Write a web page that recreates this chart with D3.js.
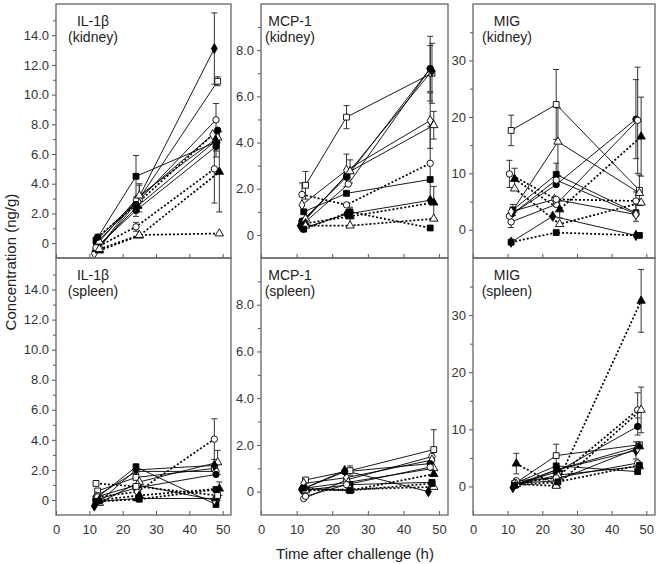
<!DOCTYPE html>
<html>
<head>
<meta charset="utf-8">
<script src="https://cdn.jsdelivr.net/npm/d3@7"></script>
<style>
  body { margin: 0; background: #fff; }
  svg { font-family: "Liberation Sans", Arial, sans-serif; }
</style>
</head>
<body>
<div id="chart"></div>
<script>
// series keys: o/f = open/filled, c/s/t/d = circle/square/triangle/diamond, ":" = dotted line
var analytes = ["IL-1\u03b2", "MCP-1", "MIG"];
var organs = ["(kidney)", "(spleen)"];
var xTicks = [0, 10, 20, 30, 40, 50];
var yDomains = [[-1, 16.1], [-1, 10], [-5, 40]];
var yMajor = [[0, 2, 4, 6, 8, 10, 12, 14], [0, 2, 4, 6, 8], [0, 10, 20, 30]];
var yMinor = [[1, 3, 5, 7, 9, 11, 13, 15], [1, 3, 5, 7, 9], [5, 15, 25, 35]];

var il1bKidney = [
    { k: "fd", t: [12, 24, 47.5], v: [0.0, 2.7, 13.1], e: [0.3, 0, 2.4] },
    { k: "os", t: [12.5, 25, 48.5], v: [0.3, 3.0, 10.9], e: [0.3, 0.9, 0.3] },
    { k: "oc", t: [13, 24.5, 48], v: [-0.3, 2.8, 8.3], e: [0, 0, 1.1] },
    { k: "fs", t: [12, 24, 48], v: [0.2, 4.5, 6.8], e: [0, 1.4, 0.6] },
    { k: "od", t: [11.5, 24, 47], v: [-0.7, 2.9, 7.3], e: [0, 0, 0] },
    { k: "fc", t: [12.5, 24, 48], v: [-0.2, 2.2, 6.5], e: [0, 0.4, 0.7] },
    { k: "ot", t: [13, 25, 48.5], v: [0.1, 3.2, 7.1], e: [0, 0.8, 0] },
    { k: "ft", t: [12, 24.5, 48], v: [-0.4, 2.5, 6.9], e: [0, 0, 0] },
    { k: "fc:", t: [12.5, 24, 48.5], v: [0.4, 2.6, 7.6], e: [0, 0, 0] },
    { k: "oc:", t: [12, 24, 47.5], v: [-0.3, 1.1, 5.0], e: [0, 0.3, 2.3] },
    { k: "ft:", t: [13, 25, 49], v: [-0.5, 0.5, 4.8], e: [0, 0, 2.7] },
    { k: "ot:", t: [13, 25, 49], v: [-0.4, 0.55, 0.65], e: [0, 0, 0] }
];

var mcp1Kidney = [
    { k: "os", t: [12.5, 24, 48], v: [2.15, 5.1, 7.0], e: [0.6, 0.5, 1.3] },
    { k: "oc", t: [12, 24.5, 47.5], v: [0.5, 2.2, 7.2], e: [0, 0, 1.0] },
    { k: "fc", t: [11.5, 24, 47.5], v: [0.6, 2.5, 7.2], e: [0, 0, 1.4] },
    { k: "fd", t: [11, 24, 48], v: [0.4, 2.6, 7.1], e: [0, 0, 0] },
    { k: "od", t: [11.5, 24, 47.5], v: [1.3, 2.8, 4.95], e: [0, 0.7, 1.2] },
    { k: "ot", t: [12.5, 25, 48.5], v: [0.7, 2.75, 4.75], e: [0, 0.5, 0.6] },
    { k: "fs", t: [12, 24, 47.5], v: [1.0, 1.8, 2.4], e: [0, 0, 0] },
    { k: "fd", t: [12, 24, 47.5], v: [0.3, 0.9, 1.5], e: [0, 0, 0] },
    { k: "oc:", t: [11.5, 24, 47.5], v: [1.75, 1.3, 3.1], e: [0.5, 0, 1.6] },
    { k: "ft:", t: [12.5, 25, 48.5], v: [0.5, 0.8, 1.4], e: [0, 0.4, 0.7] },
    { k: "ot:", t: [12.5, 25, 48.5], v: [0.4, 0.4, 0.7], e: [0, 0, 0] },
    { k: "fs:", t: [12, 25, 47.5], v: [0.25, 1.0, 0.3], e: [0, 0, 0] }
];

var migKidney = [
    { k: "os", t: [11, 24, 48], v: [17.6, 22.2, 7.0], e: [2.7, 6.2, 2.7] },
    { k: "ot", t: [11, 24.5, 48], v: [3.0, 15.6, 6.5], e: [0, 6.0, 0] },
    { k: "fc", t: [11, 24, 47], v: [2.7, 8.0, 19.6], e: [0, 0, 7.0] },
    { k: "oc", t: [11, 24, 47.5], v: [1.4, 4.5, 19.4], e: [1.0, 0, 9.4] },
    { k: "fs", t: [11.5, 24, 47], v: [3.5, 9.8, 3.0], e: [1.0, 2.0, 1.5] },
    { k: "oc", t: [10.5, 24, 47], v: [2.4, 8.8, 2.8], e: [0, 0, 0] },
    { k: "fd", t: [11, 23, 47], v: [-2.2, 2.4, -1.0], e: [0, 0, 0] },
    { k: "od", t: [11, 23.5, 47], v: [3.2, 5.4, 2.7], e: [0, 0, 0] },
    { k: "ft:", t: [12, 25, 48.5], v: [9.0, 3.6, 16.5], e: [1.9, 1.5, 7.0] },
    { k: "ot:", t: [12, 25, 48.5], v: [7.3, 1.0, 4.8], e: [0, 0, 0] },
    { k: "oc:", t: [10.5, 24, 47], v: [9.9, 5.4, 5.1], e: [2.4, 0, 1.6] },
    { k: "fs:", t: [11, 24, 48], v: [-2.2, -0.5, -1.0], e: [0, 0, 0] }
];

var il1bSpleen = [
    { k: "os", t: [12.5, 24, 47.5], v: [0.6, 1.5, 2.1], e: [0, 0, 0] },
    { k: "oc", t: [12.5, 24, 48], v: [0.3, 1.9, 1.9], e: [0, 0, 0] },
    { k: "fs", t: [12, 24, 48], v: [0.1, 2.2, -0.3], e: [0, 0.2, 0] },
    { k: "ot", t: [13, 25, 48.5], v: [-0.2, 1.2, 2.5], e: [0, 0, 0.8] },
    { k: "fc", t: [12, 24, 48], v: [0.0, 0.8, 1.7], e: [0, 0, 0] },
    { k: "fd", t: [11.5, 24, 47.5], v: [-0.4, 2.0, 2.3], e: [0, 0, 0] },
    { k: "od", t: [12, 24.5, 47.5], v: [0.2, 1.0, 0.0], e: [0, 0, 0] },
    { k: "ft", t: [12.5, 24.5, 48], v: [-0.1, 0.1, 0.1], e: [0, 0, 0] },
    { k: "oc:", t: [12.5, 24.5, 47.5], v: [0.2, 0.55, 4.05], e: [0, 0, 1.35] },
    { k: "os:", t: [12, 24, 48.5], v: [1.1, 0.9, 0.3], e: [0, 0, 0] },
    { k: "ft:", t: [13, 25, 49], v: [0.0, 0.3, 0.75], e: [0, 0, 0.45] },
    { k: "fs:", t: [12, 25, 48], v: [-0.1, 0.05, 0.7], e: [0, 0, 0] }
];

var mcp1Spleen = [
    { k: "os", t: [12.5, 25, 48.5], v: [0.5, 0.9, 1.8], e: [0, 0.2, 0.85] },
    { k: "oc", t: [12, 24, 48], v: [-0.3, 0.5, 1.5], e: [0, 0, 0] },
    { k: "od", t: [12, 24, 48], v: [0.35, 0.6, 1.35], e: [0, 0, 0] },
    { k: "fc", t: [11.5, 23.5, 47.5], v: [0.1, 0.85, 1.2], e: [0, 0, 0] },
    { k: "ot", t: [12.5, 24.5, 48.5], v: [0.15, 0.4, 1.0], e: [0, 0, 0] },
    { k: "fd", t: [11.5, 23.5, 47], v: [0.1, 0.9, 0.0], e: [0, 0, 0] },
    { k: "fs", t: [12, 25, 48], v: [0.05, 0.3, 0.4], e: [0, 0, 0] },
    { k: "oc", t: [12.5, 24, 47.5], v: [-0.2, 0.3, 1.05], e: [0, 0, 0] },
    { k: "ft:", t: [12.5, 25, 48.5], v: [0.1, 0.05, 0.75], e: [0, 0, 0] },
    { k: "ot:", t: [12.5, 25, 48.5], v: [0.05, 0.1, 0.2], e: [0, 0, 0] },
    { k: "fs:", t: [12, 25, 48], v: [0.15, 0.05, 0.35], e: [0, 0, 0] }
];

var migSpleen = [
    { k: "os", t: [12.5, 24, 48], v: [0.7, 5.4, 7.3], e: [0, 2.0, 0] },
    { k: "fs", t: [12, 24, 47.5], v: [0.5, 3.6, 2.6], e: [0, 0, 0] },
    { k: "fc", t: [12, 24, 47.5], v: [0.3, 2.5, 10.5], e: [0, 0, 1.5] },
    { k: "oc", t: [12.5, 24, 47.5], v: [1.0, 1.5, 4.1], e: [0, 0, 0] },
    { k: "ot", t: [12, 24.5, 48], v: [0.2, 2.0, 3.5], e: [0, 0, 0] },
    { k: "fd", t: [11.5, 24, 47], v: [-0.2, 2.9, 6.3], e: [0, 0, 1.5] },
    { k: "od", t: [12, 24, 47.5], v: [0.5, 1.0, 6.7], e: [0, 0, 0] },
    { k: "ft", t: [12, 24.5, 48], v: [0.3, 3.0, 7.0], e: [0, 0, 0] },
    { k: "ft:", t: [12.5, 24, 48.5], v: [4.0, 0.2, 32.5], e: [1.8, 0, 5.5] },
    { k: "oc:", t: [12, 24, 47.5], v: [0.6, 1.5, 13.4], e: [0, 0, 3.0] },
    { k: "ot:", t: [12.5, 24, 48.5], v: [0.4, 0.1, 13.4], e: [0, 0, 4.0] },
    { k: "fs:", t: [12, 24.5, 48], v: [0.2, 0.8, 3.7], e: [0, 0, 0] }
];

var panelData = [[il1bKidney, mcp1Kidney, migKidney], [il1bSpleen, mcp1Spleen, migSpleen]];

var W = 661, H = 564;
var cols = [{ l: 56, r: 231 }, { l: 261, r: 448 }, { l: 473, r: 655 }];
var rows = [{ t: 4, b: 258 }, { t: 258, b: 515 }];
var titleOffset = [37, 29, 34];

var shapes = { c: d3.symbolCircle, s: d3.symbolSquare, t: d3.symbolTriangle, d: d3.symbolDiamond };
var sizes = { c: 32, s: 34, t: 30, d: 30 };

var svg = d3.select("#chart").append("svg")
    .attr("width", W)
    .attr("height", H);

rows.forEach(function (row, ri) {
    cols.forEach(function (col, ci) {
        var data = panelData[ri][ci];
        var x = d3.scaleLinear().domain([0, 52.5]).range([col.l, col.r]);
        var y = d3.scaleLinear().domain(yDomains[ci]).range([row.b, row.t]);
        var fmt = ci < 2 ? function (d) { return d === 0 ? "0" : d.toFixed(1); } : d3.format("d");

        var g = svg.append("g");

        // y axis (ticks outside)
        var ya = g.append("g")
            .attr("transform", "translate(" + col.l + ",0)")
            .call(d3.axisLeft(y).tickValues(yMajor[ci]).tickSize(4).tickPadding(3).tickFormat(fmt));
        ya.select(".domain").remove();
        ya.selectAll("text").attr("font-size", 13).attr("fill", "#333").attr("font-family", "Liberation Sans, Arial");
        ya.selectAll("line").attr("stroke", "#555");
        var ym = g.append("g")
            .attr("transform", "translate(" + col.l + ",0)")
            .call(d3.axisLeft(y).tickValues(yMinor[ci]).tickSize(3).tickFormat(""));
        ym.select(".domain").remove();
        ym.selectAll("line").attr("stroke", "#555");

        // x axis (ticks inside)
        var xa = g.append("g")
            .attr("transform", "translate(0," + row.b + ")")
            .call(d3.axisBottom(x).tickValues(xTicks).tickSize(-4).tickPadding(10)
                .tickFormat(ri === 1 ? d3.format("d") : ""));
        xa.select(".domain").remove();
        xa.selectAll("text").attr("font-size", 13).attr("fill", "#333").attr("font-family", "Liberation Sans, Arial");
        xa.selectAll("line").attr("stroke", "#555");

        g.append("rect")
            .attr("x", col.l).attr("y", row.t)
            .attr("width", col.r - col.l).attr("height", row.b - row.t)
            .attr("fill", "none").attr("stroke", "#666").attr("stroke-width", 1.3);

        // panel title
        var tx = col.l + titleOffset[ci];
        g.append("text").attr("x", tx).attr("y", row.t + 22)
            .attr("text-anchor", "middle").attr("font-size", 14).attr("fill", "#222")
            .text(analytes[ci]);
        g.append("text").attr("x", tx).attr("y", row.t + 38)
            .attr("text-anchor", "middle").attr("font-size", 14).attr("fill", "#222")
            .text(organs[ri]);

        var line = d3.line()
            .x(function (p) { return x(p[0]); })
            .y(function (p) { return y(p[1]); });

        // connecting lines
        g.selectAll(".ln")
            .data(data)
            .enter()
            .append("path")
            .attr("d", function (s) { return line(s.t.map(function (t, i) { return [t, s.v[i]]; })); })
            .attr("fill", "none")
            .attr("stroke", "#000")
            .attr("stroke-width", function (s) { return s.k.indexOf(":") > 0 ? 1.7 : 0.9; })
            .attr("stroke-dasharray", function (s) { return s.k.indexOf(":") > 0 ? "2,2" : null; });

        // error bars
        var errs = [];
        data.forEach(function (s) {
            s.e.forEach(function (e, i) { if (e > 0) errs.push({ t: s.t[i], v: s.v[i], e: e }); });
        });
        var eb = g.selectAll(".err").data(errs).enter().append("g").attr("stroke", "#333").attr("stroke-width", 1);
        eb.append("line")
            .attr("x1", function (d) { return x(d.t); }).attr("x2", function (d) { return x(d.t); })
            .attr("y1", function (d) { return y(d.v - d.e); }).attr("y2", function (d) { return y(d.v + d.e); });
        eb.append("line")
            .attr("x1", function (d) { return x(d.t) - 3; }).attr("x2", function (d) { return x(d.t) + 3; })
            .attr("y1", function (d) { return y(d.v + d.e); }).attr("y2", function (d) { return y(d.v + d.e); });
        eb.append("line")
            .attr("x1", function (d) { return x(d.t) - 3; }).attr("x2", function (d) { return x(d.t) + 3; })
            .attr("y1", function (d) { return y(d.v - d.e); }).attr("y2", function (d) { return y(d.v - d.e); });

        // markers
        var pts = [];
        data.forEach(function (s) {
            s.t.forEach(function (t, i) { pts.push({ t: t, v: s.v[i], k: s.k }); });
        });
        g.selectAll(".pt")
            .data(pts)
            .enter()
            .append("path")
            .attr("transform", function (d) { return "translate(" + x(d.t) + "," + y(d.v) + ")"; })
            .attr("d", function (d) { return d3.symbol().type(shapes[d.k[1]]).size(sizes[d.k[1]])(); })
            .attr("fill", function (d) { return d.k[0] === "f" ? "#000" : "#fff"; })
            .attr("stroke", "#000")
            .attr("stroke-width", 0.9);
    });
});

svg.append("text")
    .attr("transform", "translate(16,262) rotate(-90)")
    .attr("text-anchor", "middle")
    .attr("font-size", 15)
    .attr("fill", "#222")
    .text("Concentration (ng/g)");

svg.append("text")
    .attr("x", 355)
    .attr("y", 559)
    .attr("text-anchor", "middle")
    .attr("font-size", 15)
    .attr("fill", "#222")
    .text("Time after challenge (h)");
</script>
</body>
</html>
